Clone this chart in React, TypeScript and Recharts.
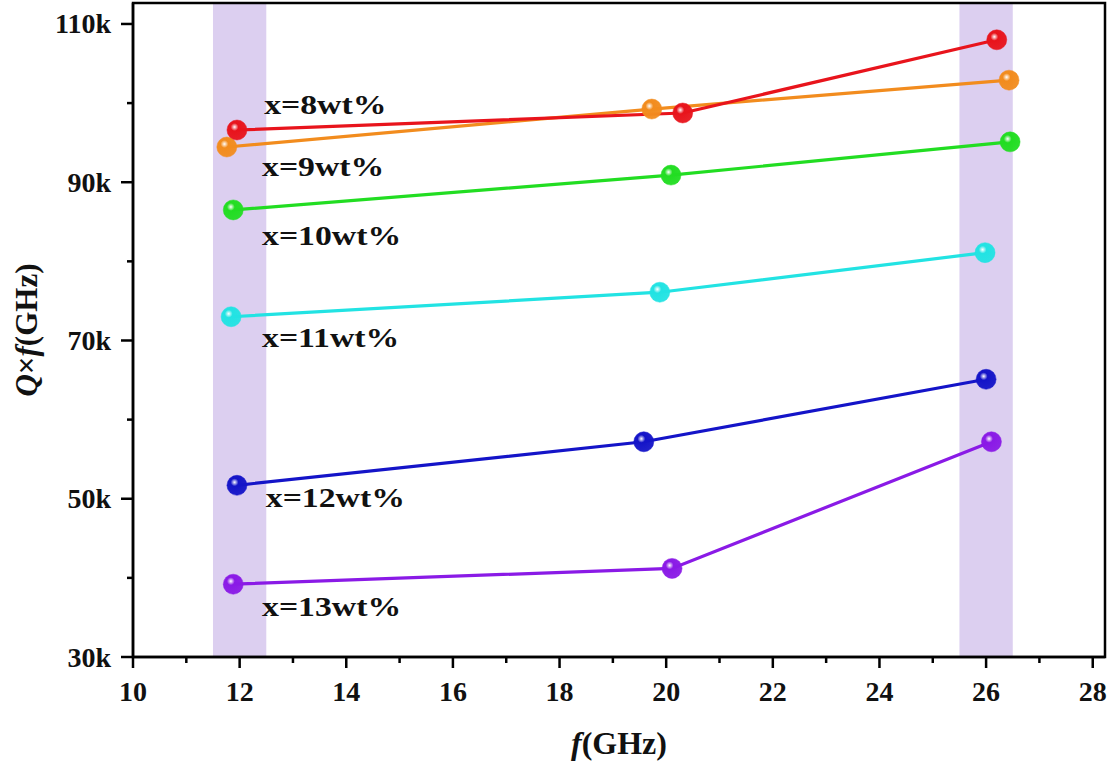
import React from 'react';
import { LineChart, Line, XAxis, YAxis, ReferenceArea, ReferenceDot, Label } from 'recharts';

// frequency (GHz) and Q×f values, one series per composition
const seriesNames = ['x=8wt%', 'x=9wt%', 'x=10wt%', 'x=11wt%', 'x=12wt%', 'x=13wt%'];
const seriesColors = ['#e8141c', '#f28c1e', '#22dd22', '#22e3e3', '#1414c8', '#8a1ae6'];

const freq8 = [11.95, 20.31, 26.2];
const qf8 = [96600, 98750, 108000];
const freq9 = [11.76, 19.73, 26.43];
const qf9 = [94450, 99250, 102900];
const freq10 = [11.88, 20.09, 26.45];
const qf10 = [86500, 90900, 95100];
const freq11 = [11.84, 19.88, 25.98];
const qf11 = [73000, 76100, 81100];
const freq12 = [11.95, 19.58, 26.0];
const qf12 = [51700, 57200, 65100];
const freq13 = [11.88, 20.11, 26.1];
const qf13 = [39200, 41200, 57200];

// where each series name is written (left edge, vertical centre)
const labelX = [12.46, 12.42, 12.42, 12.42, 12.49, 12.42];
const labelY = [99800, 91900, 83200, 70300, 50100, 36300];

const bands = [[11.5, 12.5], [25.5, 26.5]];
const xTicks = [10, 11, 12, 13, 14, 15, 16, 17, 18, 19, 20, 21, 22, 23, 24, 25, 26, 27, 28];
const yTicks = [30000, 40000, 50000, 60000, 70000, 80000, 90000, 100000, 110000];
const xMax = 28.23;
const yMax = 112650;

const pairs = (xs: number[], ys: number[]) => xs.map((x, i) => ({ x, y: ys[i] }));
const seriesData = [
    pairs(freq8, qf8),
    pairs(freq9, qf9),
    pairs(freq10, qf10),
    pairs(freq11, qf11),
    pairs(freq12, qf12),
    pairs(freq13, qf13),
];

const font = '"Liberation Serif", "Times New Roman", serif';

const XTick = (props: any) => {
    const { x, y, payload } = props;
    const major = payload.value % 2 === 0;
    return (
        <g>
            <line x1={x} y1={y} x2={x} y2={y + (major ? 11 : 6)} stroke="#000" strokeWidth={2.5} />
            {major && (
                <text x={x} y={y + 34} textAnchor="middle" dominantBaseline="central"
                    fontFamily={font} fontWeight="bold" fontSize={28} fill="#111">
                    {payload.value}
                </text>
            )}
        </g>
    );
};

const YTick = (props: any) => {
    const { x, y, payload } = props;
    const major = (payload.value / 10000) % 2 === 1;
    return (
        <g>
            <line x1={x - (major ? 12 : 6)} y1={y} x2={x} y2={y} stroke="#000" strokeWidth={2.5} />
            {major && (
                <text x={x - 22} y={y} textAnchor="end" dominantBaseline="central"
                    fontFamily={font} fontWeight="bold" fontSize={28} fill="#111">
                    {`${payload.value / 1000}k`}
                </text>
            )}
        </g>
    );
};

const Ball = (color: string, idx: number) => (props: any) => {
    const { cx, cy } = props;
    if (cx == null || cy == null) return null;
    return <circle key={`${idx}-${cx}`} cx={cx} cy={cy} r={10} fill={`url(#ball${idx})`} stroke={color} strokeWidth={0.5} />;
};

// labels in the figure are drawn wide, so stretch them horizontally
const SeriesLabel = (text: string) => (props: any) => (
    <text transform={`translate(${props.cx}, ${props.cy}) scale(1.25, 1)`} dominantBaseline="central"
        fontFamily={font} fontWeight="bold" fontSize={27} fill="#111">
        {text}
    </text>
);

const App = () => {
    return (
        <div style={{ position: 'absolute', left: 0, top: 0, width: 1113, height: 766, background: '#fff' }}>
            <LineChart width={1113} height={766} margin={{ top: 3, right: 8, bottom: 0, left: 0 }}>
                <defs>
                    {seriesColors.map((c, i) => (
                        <radialGradient key={c} id={`ball${i}`} cx="38%" cy="35%" r="65%">
                            <stop offset="0%" stopColor="#ffffff" />
                            <stop offset="30%" stopColor={c} />
                            <stop offset="100%" stopColor={c} stopOpacity={0.95} />
                        </radialGradient>
                    ))}
                </defs>
                {bands.map(([a, b]) => (
                    <ReferenceArea key={a} x1={a} x2={b} fill="#dccff0" fillOpacity={1} stroke="none" />
                ))}
                <XAxis type="number" dataKey="x" domain={[10, xMax]} ticks={xTicks} interval={0}
                    height={109} tickSize={0} tickMargin={0} tickLine={false} tick={<XTick />}
                    axisLine={{ stroke: '#000', strokeWidth: 2.5 }} allowDataOverflow>
                    <Label content={(p: any) => {
                        const vb = p.viewBox;
                        return (
                            <text x={vb.x + vb.width / 2} y={vb.y + 86} textAnchor="middle" dominantBaseline="central"
                                fontFamily={font} fontWeight="bold" fontSize={32} fill="#111">
                                <tspan fontStyle="italic">f</tspan>
                                <tspan>(GHz)</tspan>
                            </text>
                        );
                    }} />
                </XAxis>
                <YAxis type="number" domain={[30000, yMax]} ticks={yTicks} interval={0} width={133}
                    tickSize={0} tickMargin={0} tickLine={false} tick={<YTick />}
                    axisLine={{ stroke: '#000', strokeWidth: 2.5 }} allowDataOverflow>
                    <Label content={(p: any) => {
                        const vb = p.viewBox;
                        const cx = vb.x + 26;
                        const cy = vb.y + vb.height / 2;
                        return (
                            <text x={cx} y={cy} transform={`rotate(-90, ${cx}, ${cy})`} textAnchor="middle"
                                dominantBaseline="central" fontFamily={font} fontWeight="bold" fontSize={31} fill="#111">
                                <tspan fontStyle="italic">Q</tspan>
                                <tspan>×</tspan>
                                <tspan fontStyle="italic">f</tspan>
                                <tspan>(GHz)</tspan>
                            </text>
                        );
                    }} />
                </YAxis>
                <ReferenceArea x1={10} x2={xMax} y1={30000} y2={yMax} fill="none" stroke="#000" strokeWidth={2.5} />
                {[5, 4, 3, 2, 1, 0].map((i) => (
                    <Line key={seriesNames[i]} data={seriesData[i]} dataKey="y" name={seriesNames[i]}
                        type="linear" stroke={seriesColors[i]} strokeWidth={3.2}
                        dot={Ball(seriesColors[i], i)} activeDot={false} isAnimationActive={false} />
                ))}
                {seriesNames.map((n, i) => (
                    <ReferenceDot key={n} x={labelX[i]} y={labelY[i]} r={0} shape={SeriesLabel(n)} />
                ))}
            </LineChart>
        </div>
    );
};

export default App;
